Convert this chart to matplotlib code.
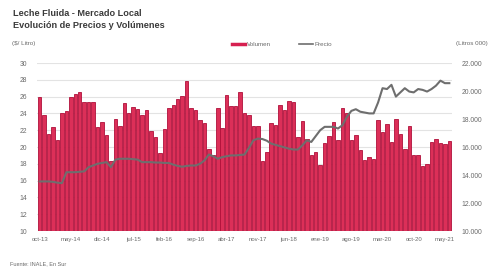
import matplotlib
matplotlib.use("Agg")
import matplotlib.pyplot as plt
from matplotlib.lines import Line2D
import numpy as np

plt.rcParams['font.family'] = ['Liberation Sans', 'DejaVu Sans']

# Monthly data, oct-13 .. jun-21 (93 months)
volumen = [19600, 18280, 16960, 17440, 16480, 18460, 18580, 19600, 19780, 19900,
           19240, 19240, 19180, 17440, 17800, 16840, 14980, 17980, 17500, 19120,
           18460, 18880, 18700, 18280, 18640, 17140, 16720, 15580, 17320, 18760,
           19000, 19420, 19660, 20680, 18760, 18640, 17920, 17680, 15880, 15400,
           18820, 17380, 19720, 18940, 18940, 19900, 18460, 18280, 17500, 17500,
           14980, 15640, 17680, 17560, 19000, 18640, 19300, 19240, 16720, 17860,
           16600, 15460, 15640, 14740, 16300, 16780, 17800, 16480, 18820, 18400,
           16480, 16840, 15820, 15040, 15280, 15160, 17920, 17080, 17620, 16360,
           17980, 16960, 15880, 17500, 15400, 15460, 14620, 14800, 16360, 16600,
           16300, 16180, 16420]

precio = [15.9, 15.9, 15.9, 15.85, 15.75, 15.7, 17.0, 17.0, 17.0, 17.05,
          17.1, 17.6, 17.8, 18.0, 18.1, 18.2, 17.6, 18.5, 18.6, 18.6,
          18.6, 18.55, 18.5, 18.2, 18.2, 18.2, 18.15, 18.15, 18.1, 18.1,
          17.9, 17.75, 17.65, 17.75, 17.8, 17.8, 18.0, 18.4, 19.1, 18.9,
          18.6, 18.8, 18.9, 19.0, 19.0, 19.05, 19.1, 19.9, 20.8, 21.0,
          20.95, 20.75, 20.4, 20.25, 20.1, 19.95, 19.8, 19.7, 19.7, 20.2,
          20.8, 20.6, 21.3, 22.0, 22.4, 22.4, 22.4, 22.2, 22.6, 23.6,
          24.3, 24.5, 24.2, 24.1, 24.0, 24.0, 25.3, 27.0, 26.9, 27.4,
          26.0, 26.5, 27.0, 26.6, 26.5, 26.9, 26.8, 26.6, 26.9, 27.3,
          27.9, 27.6, 27.6]

tick_labels = ["oct-13", "may-14", "dic-14", "jul-15", "feb-16", "sep-16", "abr-17",
               "nov-17", "jun-18", "ene-19", "ago-19", "mar-20", "oct-20", "may-21"]
tick_step = 7

price_ticks = list(range(10, 31, 2))
vol_ticks = list(range(10000, 22001, 2000))

W, H = 495, 273
fig = plt.figure(figsize=(W / 100, H / 100), dpi=100)
left, right, bottom, top = 37 / W, 452 / W, 1 - 231 / H, 1 - 63 / H
ax_grid = fig.add_axes([left, bottom, right - left, top - bottom])
ax_vol = ax_grid.twinx()
ax_price = ax_grid.twinx()

x = np.arange(len(volumen))
n = len(volumen)

# grid / left axis
ax_grid.set_ylim(10, 30)
ax_grid.set_yticks(price_ticks)
ax_grid.set_yticklabels([str(t) for t in price_ticks])
ax_grid.grid(axis='y', color='#e3e3e3', linewidth=0.8)
ax_grid.set_axisbelow(True)

# bars
ax_vol.bar(x, volumen, width=0.78, bottom=0, color='#dc2f58', edgecolor='#b0103a',
           linewidth=0.6, zorder=2)
ax_vol.set_ylim(10000, 22000)
ax_vol.set_yticks(vol_ticks)
ax_vol.set_yticklabels([f"{t:,}".replace(",", ".") for t in vol_ticks])

# price line
ax_price.plot(x, precio, color='#6e6e6e', linewidth=1.5, zorder=3)
ax_price.set_ylim(10, 30)
ax_price.set_yticks([])

for a in (ax_grid, ax_vol, ax_price):
    a.set_xlim(-0.6, n - 0.4)
    for s in a.spines.values():
        s.set_visible(False)
    a.tick_params(length=0, labelsize=4.9, labelcolor='#6a6a6a', pad=3)

ax_grid.set_xticks(x[::tick_step])
ax_grid.set_xticklabels(tick_labels, fontsize=4.3)
ax_grid.tick_params(axis='x', pad=4)
ax_vol.tick_params(axis='y', pad=7)
ax_grid.tick_params(axis='y', pad=7)

# titles and annotations
fig.text(13 / W, 1 - 13 / H, "Leche Fluida - Mercado Local", fontsize=6.6,
         fontweight='bold', color='#3a3a3a', va='center', ha='left')
fig.text(13 / W, 1 - 25 / H, "Evolución de Precios y Volúmenes", fontsize=6.6,
         fontweight='bold', color='#3a3a3a', va='center', ha='left')
fig.text(12 / W, 1 - 44 / H, "($/ Litro)", fontsize=4.5, color='#6a6a6a', va='center', ha='left')
fig.text(456 / W, 1 - 44 / H, "(Litros 000)", fontsize=4.5, color='#6a6a6a', va='center', ha='left')
fig.text(10 / W, 1 - 264 / H, "Fuente: INALE, En Sur", fontsize=4.0, color='#6a6a6a',
         va='center', ha='left')

handles = [Line2D([0], [0], color='#d62050', linewidth=2.5),
           Line2D([0], [0], color='#6e6e6e', linewidth=1.2)]
fig.legend(handles, ["Volumen", "Precio"], loc='center', bbox_to_anchor=(282 / W, 1 - 44 / H),
           ncol=2, frameon=False, fontsize=4.5, handlelength=2.2, columnspacing=4.5,
           handletextpad=0.3, labelcolor='#6a6a6a')

fig.savefig("out.png", dpi=100)
